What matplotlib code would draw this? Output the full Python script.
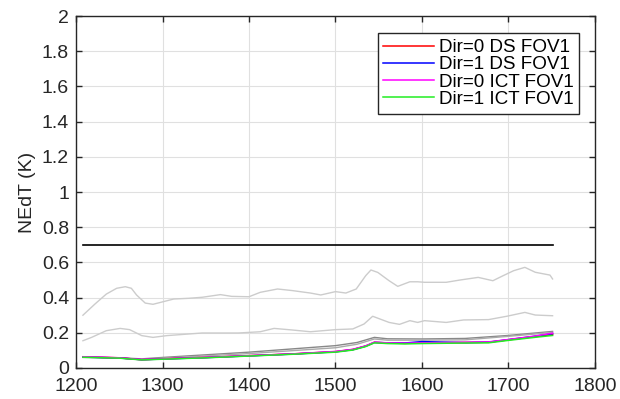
import numpy as np
import matplotlib
matplotlib.use('Agg')
import matplotlib.pyplot as plt

plt.rcParams['font.family'] = ['Liberation Sans', 'DejaVu Sans']

# upper light gray curve
x_up = [1208, 1222, 1235, 1247, 1257, 1264, 1270, 1280, 1289, 1301, 1313, 1330, 1346, 1367, 1380,
        1400, 1413, 1433, 1450, 1471, 1483, 1500, 1512, 1524, 1535, 1541, 1549, 1562, 1572, 1586,
        1595, 1603, 1628, 1644, 1665, 1682, 1694, 1706, 1719, 1731, 1748, 1751]
y_up = [0.30, 0.364, 0.42, 0.453, 0.462, 0.453, 0.415, 0.369, 0.362, 0.377, 0.392, 0.396, 0.402, 0.417, 0.407,
        0.405, 0.43, 0.449, 0.44, 0.426, 0.415, 0.434, 0.426, 0.449, 0.525, 0.557, 0.543, 0.496, 0.464, 0.49,
        0.49, 0.487, 0.487, 0.50, 0.515, 0.496, 0.525, 0.553, 0.572, 0.544, 0.528, 0.506]

# lower light gray curve
x_lo = [1208, 1218, 1235, 1251, 1262, 1276, 1289, 1305, 1346, 1388, 1413, 1429, 1450, 1471, 1500,
        1520, 1533, 1543, 1562, 1574, 1586, 1595, 1603, 1628, 1648, 1677, 1698, 1719, 1731, 1751]
y_lo = [0.155, 0.174, 0.212, 0.225, 0.218, 0.184, 0.174, 0.184, 0.199, 0.199, 0.206, 0.225, 0.216, 0.206, 0.218,
        0.222, 0.25, 0.294, 0.259, 0.248, 0.269, 0.259, 0.269, 0.259, 0.273, 0.275, 0.294, 0.316, 0.301, 0.297]

# dark gray curves
x_dk = [1208, 1250, 1276, 1300, 1400, 1500, 1525, 1545, 1560, 1600, 1650, 1700, 1751]
y_dk1 = [0.062, 0.058, 0.052, 0.060, 0.090, 0.127, 0.145, 0.174, 0.166, 0.165, 0.168, 0.185, 0.208]
y_dk2 = [0.060, 0.056, 0.049, 0.055, 0.082, 0.115, 0.135, 0.165, 0.158, 0.158, 0.160, 0.180, 0.202]

# coloured series
x_c = [1208, 1250, 1276, 1300, 1350, 1400, 1450, 1500, 1520, 1535, 1545, 1560, 1580, 1600, 1650, 1677, 1700, 1730, 1751]
y_d0ds = [0.063, 0.058, 0.047, 0.052, 0.060, 0.070, 0.080, 0.093, 0.105, 0.125, 0.146, 0.142, 0.140, 0.142, 0.145, 0.146, 0.160, 0.178, 0.190]
y_d1ds = [0.062, 0.057, 0.047, 0.051, 0.059, 0.069, 0.079, 0.092, 0.104, 0.124, 0.145, 0.143, 0.142, 0.150, 0.144, 0.147, 0.161, 0.180, 0.195]
y_d0ict = [0.064, 0.058, 0.048, 0.052, 0.060, 0.070, 0.080, 0.094, 0.106, 0.126, 0.147, 0.143, 0.141, 0.143, 0.146, 0.148, 0.162, 0.181, 0.198]
y_d1ict = [0.061, 0.056, 0.046, 0.050, 0.058, 0.068, 0.078, 0.090, 0.102, 0.122, 0.143, 0.139, 0.137, 0.139, 0.142, 0.143, 0.157, 0.174, 0.185]

# threshold line
x_thr = [1208, 1751]
y_thr = [0.7, 0.7]

labels = ['Dir=0 DS FOV1', 'Dir=1 DS FOV1', 'Dir=0 ICT FOV1', 'Dir=1 ICT FOV1']
colors = ['#ff0000', '#0000ff', '#ff00ff', '#22ee22']

fig = plt.figure(figsize=(6.2, 3.99), dpi=100)
ax = fig.add_axes([0.1226, 0.0777, 0.837, 0.882])

ax.plot(x_up, y_up, color='#cccccc', lw=1.0)
ax.plot(x_lo, y_lo, color='#cccccc', lw=1.0)
ax.plot(x_dk, y_dk1, color='#888888', lw=1.0)
ax.plot(x_dk, y_dk2, color='#aaaaaa', lw=1.0)
ax.plot(x_thr, y_thr, color='black', lw=1.2)

for yv, c, lab in zip([y_d0ds, y_d1ds, y_d0ict, y_d1ict], colors, labels):
    ax.plot(x_c, yv, color=c, lw=1.1, label=lab)

ax.set_xlim(1200, 1800)
ax.set_ylim(0, 2)
ax.set_xticks(np.arange(1200, 1801, 100))
yt = np.arange(0, 2.01, 0.2)
ax.set_yticks(yt)
ax.set_yticklabels(['%g' % round(v, 1) for v in yt])
ax.tick_params(direction='in', top=True, right=True, labelsize=14, length=4, width=1,
               colors='#262626')
ax.tick_params(axis='x', pad=7)
ax.tick_params(axis='y', pad=5)
ax.grid(color='#e0e0e0', linewidth=0.8)
ax.set_axisbelow(True)
for s in ax.spines.values():
    s.set_color('#262626')
    s.set_linewidth(1.0)
ax.set_ylabel('NEdT (K)', fontsize=14, color='#262626', labelpad=4)

leg = ax.legend(loc='upper right', bbox_to_anchor=(0.970, 0.951), fontsize=13.6,
                handlelength=2.7, labelspacing=0.0, borderpad=0.3, handletextpad=0.25,
                fancybox=False, framealpha=1, borderaxespad=0)
leg.get_frame().set_edgecolor('#262626')
leg.get_frame().set_linewidth(1.0)

fig.savefig('out.png', dpi=100)
